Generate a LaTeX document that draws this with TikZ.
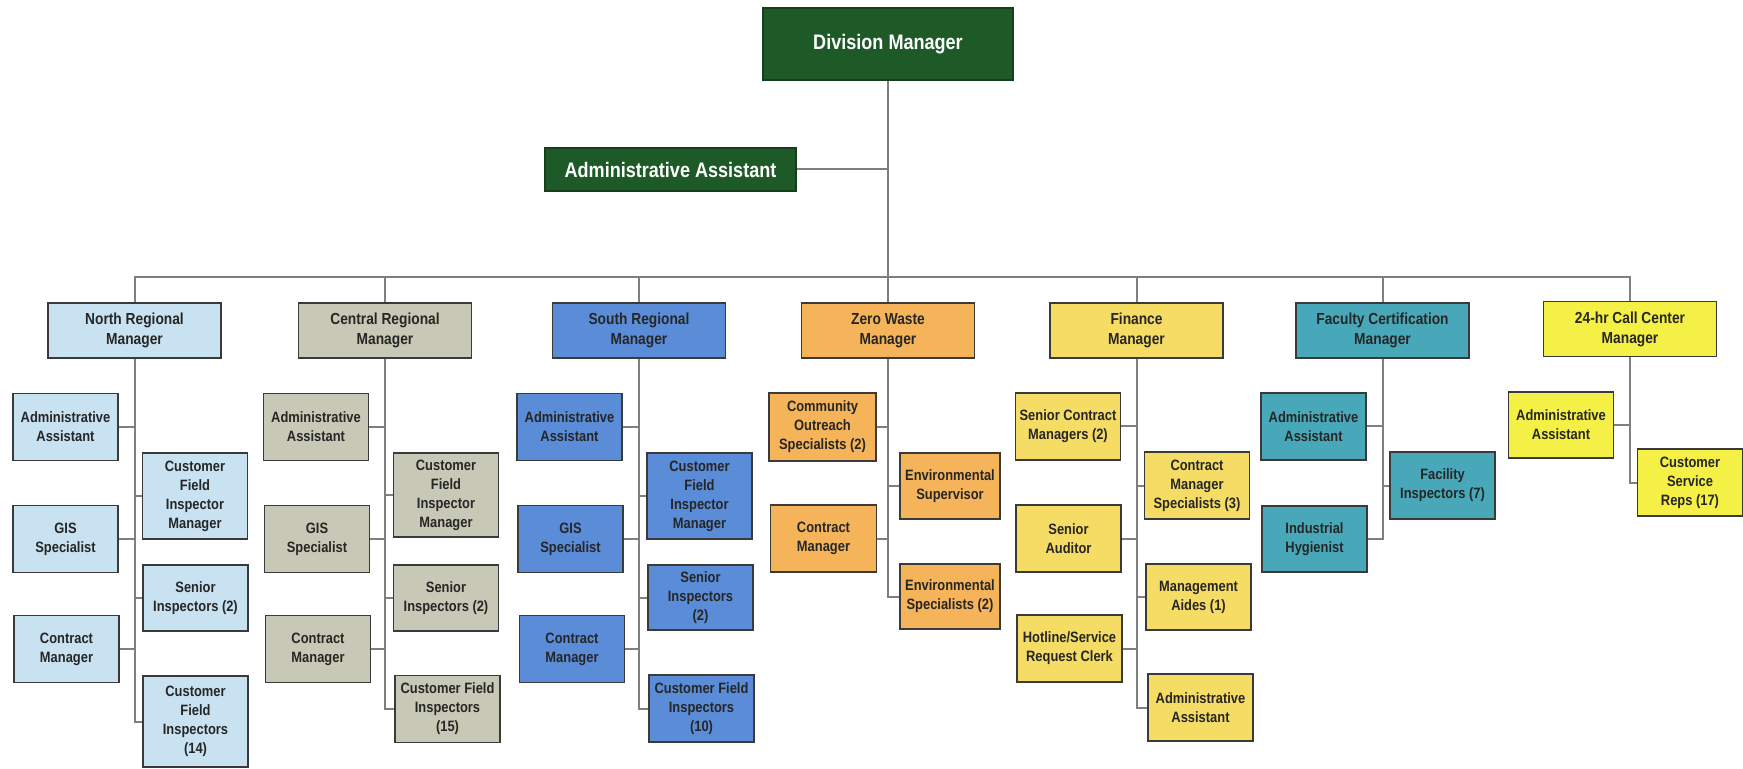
\documentclass[tikz,border=0pt]{standalone}
\usepackage{fontspec}
\setmainfont{Liberation Sans}[FakeStretch=0.86]
\usetikzlibrary{positioning}

\definecolor{divgreen}{HTML}{1E5A28}
\definecolor{northblue}{HTML}{C8E2F2}
\definecolor{centralgrey}{HTML}{C8C8B6}
\definecolor{southblue}{HTML}{5A8CD7}
\definecolor{zeroorange}{HTML}{F5B45A}
\definecolor{financegold}{HTML}{F5DC64}
\definecolor{facultyteal}{HTML}{48A8B9}
\definecolor{callyellow}{HTML}{F5F046}
\definecolor{unitline}{HTML}{3A3A3A}
\definecolor{linkgrey}{HTML}{7F7F7F}

\tikzset{
  unit/.style={draw=unitline, line width=0.7pt, align=center, inner sep=1pt,
    text=black!85, font=\bfseries\fontsize{7.5}{9.5}\selectfont},
  topbox/.style={unit, fill=divgreen, text=white, draw=divgreen!70!black,
    font=\bfseries\fontsize{10.5}{12}\selectfont},
  head/.style={unit, minimum width=86.5pt, minimum height=27.5pt,
    font=\bfseries\fontsize{8}{10}\selectfont},
  staff/.style={unit, minimum width=52.5pt, minimum height=33.5pt},
  tall/.style={staff, minimum height=43pt},
  link/.style={draw=linkgrey, line width=1pt},
}

\begin{document}
\begin{tikzpicture}[x=0.5pt, y=-0.5pt]
\useasboundingbox (0,0) rectangle (1743,769);

% top of the chart
\node[topbox, minimum width=125pt, minimum height=36pt] (dm) at (888,44) {Division Manager};
\node[topbox, minimum width=125.5pt, minimum height=21.5pt] (aa) at (670.5,169.5) {Administrative Assistant};

% managers
\node[head, fill=northblue] (north) at (134.5,330.5) {North Regional\\Manager};
\node[head, fill=centralgrey] (central) at (385,330.5) {Central Regional\\Manager};
\node[head, fill=southblue] (south) at (639,330.5) {South Regional\\Manager};
\node[head, fill=zeroorange] (zero) at (888,330.5) {Zero Waste\\Manager};
\node[head, fill=financegold] (finance) at (1136.5,330.5) {Finance\\Manager};
\node[head, fill=facultyteal] (faculty) at (1382.5,330.5) {Faculty Certification\\Manager};
\node[head, fill=callyellow] (call) at (1630,329) {24-hr Call Center\\Manager};

% north
\node[staff, fill=northblue] (north-aa) at (65.5,427) {Administrative\\Assistant};
\node[staff, fill=northblue] (north-gis) at (65.5,539) {GIS\\Specialist};
\node[staff, fill=northblue] (north-cm) at (66.5,649) {Contract\\Manager};
\node[tall, fill=northblue] (north-cfim) at (195,496) {Customer\\Field\\Inspector\\Manager};
\node[staff, fill=northblue, minimum height=33pt] (north-si) at (195.5,598) {Senior\\Inspectors (2)};
\node[staff, fill=northblue, minimum height=45.5pt] (north-cfi) at (195.5,721.5) {Customer\\Field\\Inspectors\\(14)};

% central
\node[staff, fill=centralgrey] (central-aa) at (316,427) {Administrative\\Assistant};
\node[staff, fill=centralgrey] (central-gis) at (317,539) {GIS\\Specialist};
\node[staff, fill=centralgrey] (central-cm) at (318,649) {Contract\\Manager};
\node[tall, fill=centralgrey, minimum height=42pt] (central-cfim) at (446,495) {Customer\\Field\\Inspector\\Manager};
\node[staff, fill=centralgrey, minimum height=33pt] (central-si) at (446,598) {Senior\\Inspectors (2)};
\node[staff, fill=centralgrey] (central-cfi) at (447.5,709) {Customer Field\\Inspectors\\(15)};

% south
\node[staff, fill=southblue] (south-aa) at (569.5,427) {Administrative\\Assistant};
\node[staff, fill=southblue] (south-gis) at (570.5,539) {GIS\\Specialist};
\node[staff, fill=southblue] (south-cm) at (572,649) {Contract\\Manager};
\node[tall, fill=southblue] (south-cfim) at (699.5,496) {Customer\\Field\\Inspector\\Manager};
\node[staff, fill=southblue, minimum height=32.5pt] (south-si) at (700.5,597.5) {Senior\\Inspectors\\(2)};
\node[staff, fill=southblue] (south-cfi) at (701.5,708.5) {Customer Field\\Inspectors\\(10)};

% zero waste
\node[staff, fill=zeroorange, minimum width=53.5pt, minimum height=34pt] (zero-cos) at (822.5,427) {Community\\Outreach\\Specialists (2)};
\node[staff, fill=zeroorange, minimum width=53pt] (zero-cm) at (823.5,538.5) {Contract\\Manager};
\node[staff, fill=zeroorange, minimum width=50pt, minimum height=33pt] (zero-es) at (950,486) {Environmental\\Supervisor};
\node[staff, fill=zeroorange, minimum width=50pt, minimum height=32.5pt] (zero-esp) at (950,596.5) {Environmental\\Specialists (2)};

% finance
\node[staff, fill=financegold] (finance-scm) at (1068,426.5) {Senior Contract\\Managers (2)};
\node[staff, fill=financegold] (finance-sa) at (1068.5,538.5) {Senior\\Auditor};
\node[staff, fill=financegold] (finance-hsc) at (1069.5,648.5) {Hotline/Service\\Request Clerk};
\node[staff, fill=financegold] (finance-cms) at (1197,485.5) {Contract\\Manager\\Specialists (3)};
\node[staff, fill=financegold, minimum height=33pt] (finance-ma) at (1198.5,597) {Management\\Aides (1)};
\node[staff, fill=financegold] (finance-aa) at (1200.5,707.5) {Administrative\\Assistant};

% faculty certification
\node[staff, fill=facultyteal] (faculty-aa) at (1313.5,426.5) {Administrative\\Assistant};
\node[staff, fill=facultyteal, minimum height=33pt] (faculty-ih) at (1314.5,539) {Industrial\\Hygienist};
\node[staff, fill=facultyteal] (faculty-fi) at (1442.5,485.5) {Facility\\Inspectors (7)};

% call center
\node[staff, fill=callyellow, minimum height=33pt] (call-aa) at (1561,425) {Administrative\\Assistant};
\node[staff, fill=callyellow] (call-csr) at (1690,482.5) {Customer\\Service\\Reps (17)};

% connectors
\coordinate (bus) at (888,277);
\draw[link] (dm.south) -- (zero.north);
\draw[link] (aa.east) -- (aa.east -| dm.south);
\draw[link] (north.north) |- (bus) -| (call.north);
\foreach \m in {central, south, finance, faculty}
  \draw[link] (\m.north) -- (\m.north |- bus);
\foreach \m/\c in {north/north-aa, north/north-gis, north/north-cm,
    central/central-aa, central/central-gis, central/central-cm,
    south/south-aa, south/south-gis, south/south-cm,
    zero/zero-cos, zero/zero-cm,
    finance/finance-scm, finance/finance-sa, finance/finance-hsc,
    faculty/faculty-aa, faculty/faculty-ih, call/call-aa}
  \draw[link] (\m.south) |- (\c.east);
\foreach \m/\c in {north/north-cfim, north/north-si, north/north-cfi,
    central/central-cfim, central/central-si, central/central-cfi,
    south/south-cfim, south/south-si, south/south-cfi,
    zero/zero-es, zero/zero-esp,
    finance/finance-cms, finance/finance-ma, finance/finance-aa,
    faculty/faculty-fi, call/call-csr}
  \draw[link] (\m.south) |- (\c.west);
\end{tikzpicture}
\end{document}
